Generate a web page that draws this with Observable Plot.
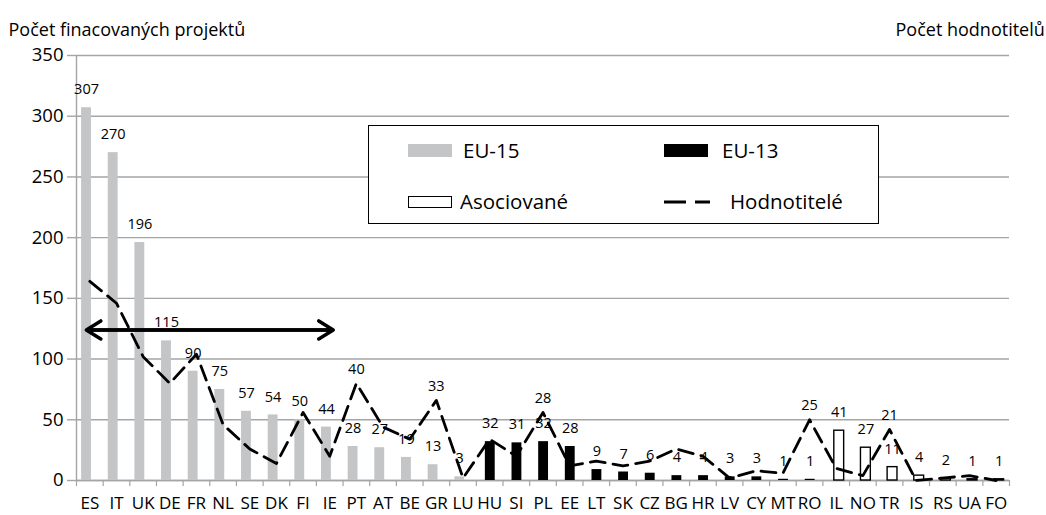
<!DOCTYPE html>
<html><head><meta charset="utf-8">
<script src="https://cdn.jsdelivr.net/npm/d3@7"></script>
<script src="https://cdn.jsdelivr.net/npm/@observablehq/plot@0.6"></script>
<style>
body{margin:0;background:#fff;font-family:"Open Sans",sans-serif;}
#wrap{position:relative;width:1046px;height:515px;overflow:hidden;background:#fff;}
.legend{position:absolute;left:368px;top:125px;width:511px;height:99px;border:1.5px solid #000;background:#fff;box-sizing:border-box;}
.legend .it{position:absolute;font-size:20.5px;line-height:20.5px;color:#000;white-space:nowrap;}
.legend .sw{position:absolute;box-sizing:border-box;}
</style></head>
<body>
<div id="wrap"><div id="chart"></div><div class="legend" id="legend"></div></div>
<script>
// ---- data ----
const countries = ["ES","IT","UK","DE","FR","NL","SE","DK","FI","IE","PT","AT","BE","GR","LU",
  "HU","SI","PL","EE","LT","SK","CZ","BG","HR","LV","CY","MT","RO",
  "IL","NO","TR","IS","RS","UA","FO"];
const groupNames = ["EU-15","EU-13","Asociované"];
const groupSizes = [15,13,7];
const projects = [307,270,196,115,90,75,57,54,50,44,28,27,19,13,3,
  32,31,32,28,9,7,6,4,4,3,3,1,1,
  41,27,11,4,2,1,1];
const evaluators = [82,73,51,40,52,23,13,7,28,10,40,22,17,33,1,
  17,10,28,6,8,6,8,13,10,1,4,3,25,
  5,2,21,0,1,2,0];
const labeledEvaluators = ["PT","GR","PL","RO","TR"];
const lineName = "Hodnotitelé";
const yTicks = [0,50,100,150,200,250,300,350];
const secondaryMax = 175;
const primaryMax = 350;
const arrowFrom = "ES", arrowTo = "IE", arrowValue = 124;
const titleLeft = "Počet finacovaných projektů";
const titleRight = "Počet hodnotitelů";

// ---- styles ----
const groupFill = {"EU-15":"#c4c5c7","EU-13":"#000000","Asociované":"#ffffff"};
const groupStroke = {"EU-15":"none","EU-13":"none","Asociované":"#000000"};
const groupDx = {"EU-15":-3.3,"EU-13":0.6,"Asociované":3};

const groupOf = [];
groupSizes.forEach((n,gi)=>{for(let k=0;k<n;k++) groupOf.push(groupNames[gi]);});
const rows = countries.map((c,i)=>({country:c, group:groupOf[i], projects:projects[i], evaluators:evaluators[i]}));
const ratio = primaryMax/secondaryMax;

const W=1046, H=515, ML=76, MR=37, MT=55, MB=35;
const half = (W-ML-MR)/countries.length/2;
const gray = "#a5a5a5";
const FONT = "'Open Sans', sans-serif";

const marks = [
  Plot.gridY(yTicks,{stroke:gray,strokeOpacity:1,strokeWidth:1.4}),
  Plot.ruleX([countries[0]],{dx:-half,stroke:gray,strokeWidth:1.4}),
  Plot.ruleY([0],{stroke:gray,strokeWidth:1.4}),
  Plot.axisX(countries,{tickSize:6,stroke:gray,strokeWidth:1.2,tickFormat:()=>"",dx:-half}),
  Plot.axisX([countries[countries.length-1]],{tickSize:6,stroke:gray,strokeWidth:1.2,tickFormat:()=>"",dx:half}),
  Plot.axisY(yTicks,{tickSize:9,stroke:gray,strokeWidth:1.4,tickFormat:()=>""}),
  Plot.text(yTicks,{y:d=>d,frameAnchor:"left",dx:-13,textAnchor:"end",fontSize:18.5,fill:"#000"}),
  Plot.text(countries,{x:d=>d,frameAnchor:"bottom",dy:28,fontSize:17,fill:"#000"})
];
groupNames.forEach(g=>{
  const sub = rows.filter(d=>d.group===g);
  marks.push(Plot.barY(sub,{x:"country",y:"projects",fill:groupFill[g],stroke:groupStroke[g],strokeWidth:1.4,
    insetLeft:8.4,insetRight:8.4,dx:groupDx[g]}));
});
marks.push(Plot.lineY(rows,{x:"country",y:d=>d.evaluators*ratio,stroke:"#000",strokeWidth:2.8,strokeDasharray:"15,8"}));
groupNames.forEach(g=>{
  const sub = rows.filter(d=>d.group===g);
  marks.push(Plot.text(sub,{x:"country",y:"projects",text:d=>String(d.projects),dy:-18,dx:groupDx[g],fontSize:14.5,fill:"#000"}));
});
marks.push(Plot.text(rows.filter(d=>labeledEvaluators.includes(d.country)),
  {x:"country",y:d=>d.evaluators*ratio,text:d=>String(d.evaluators),dy:-14,fontSize:14.5,fill:"#000"}));
marks.push(Plot.arrow([{a:arrowFrom,b:arrowTo,v:arrowValue},{a:arrowTo,b:arrowFrom,v:arrowValue}],
  {x1:"a",x2:"b",y1:"v",y2:"v",stroke:"#000",strokeWidth:3.5,headLength:7.3,headAngle:64,insetEnd:-3.5}));
marks.push(Plot.text([titleLeft],{frameAnchor:"top-left",dx:-68,dy:-32,textAnchor:"start",fontSize:18,fill:"#000"}));
marks.push(Plot.text([titleRight],{frameAnchor:"top-right",dx:-114,dy:-32,textAnchor:"start",fontSize:18,fill:"#000"}));

const chart = Plot.plot({
  width:W,height:H,marginLeft:ML,marginRight:MR,marginTop:MT,marginBottom:MB,
  x:{domain:countries,padding:0,round:false,axis:null},
  y:{domain:[0,primaryMax],axis:null},
  style:{fontFamily:FONT,background:"#fff",overflow:"visible",color:"#000"},
  marks
});
document.getElementById("chart").appendChild(chart);

// ---- legend ----
const lg = document.getElementById("legend");
const items = [
  {name:groupNames[0], kind:"bar", fill:groupFill[groupNames[0]], stroke:"none", sx:39, sy:18, tx:94, ty:14},
  {name:groupNames[1], kind:"bar", fill:groupFill[groupNames[1]], stroke:"none", sx:295, sy:18, tx:353, ty:14},
  {name:groupNames[2], kind:"bar", fill:groupFill[groupNames[2]], stroke:"#000", sx:39, sy:70, tx:91, ty:65},
  {name:lineName, kind:"line", sx:295, sy:70, tx:361, ty:65}
];
items.forEach(it=>{
  if(it.kind==="bar"){
    const s=document.createElement("div");
    s.className="sw";
    const h = it.stroke==="none"?13:12;
    s.style.cssText=`left:${it.sx}px;top:${it.sy}px;width:44px;height:${h}px;background:${it.fill};`+(it.stroke!=="none"?`border:1.4px solid ${it.stroke};`:"");
    lg.appendChild(s);
  } else {
    const ns="http://www.w3.org/2000/svg";
    const svg=document.createElementNS(ns,"svg");
    svg.setAttribute("width","46");svg.setAttribute("height","12");
    svg.style.cssText=`position:absolute;left:${it.sx}px;top:${it.sy}px;`;
    const l=document.createElementNS(ns,"line");
    l.setAttribute("x1","0");l.setAttribute("x2","46");l.setAttribute("y1","6");l.setAttribute("y2","6");
    l.setAttribute("stroke","#000");l.setAttribute("stroke-width","2.8");l.setAttribute("stroke-dasharray","22,9");
    svg.appendChild(l);lg.appendChild(svg);
  }
  const t=document.createElement("div");
  t.className="it";t.textContent=it.name;
  t.style.left=it.tx+"px";t.style.top=it.ty+"px";
  lg.appendChild(t);
});
</script>
</body></html>
